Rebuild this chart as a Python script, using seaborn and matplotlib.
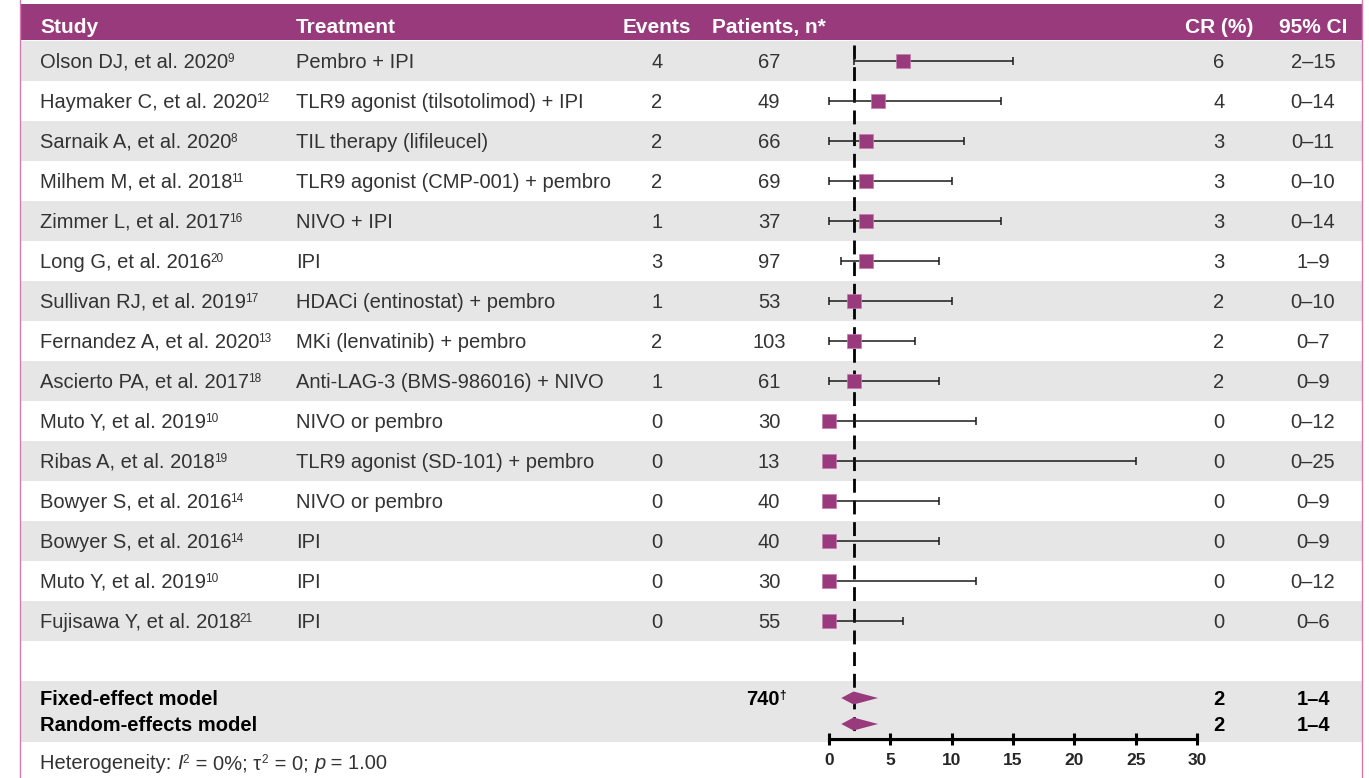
import numpy as np
import pandas as pd
import matplotlib
matplotlib.use("Agg")
import matplotlib.pyplot as plt
import seaborn as sns

# ---------------- data ----------------
studies = ["Olson DJ, et al. 2020", "Haymaker C, et al. 2020", "Sarnaik A, et al. 2020",
           "Milhem M, et al. 2018", "Zimmer L, et al. 2017", "Long G, et al. 2016",
           "Sullivan RJ, et al. 2019", "Fernandez A, et al. 2020", "Ascierto PA, et al. 2017",
           "Muto Y, et al. 2019", "Ribas A, et al. 2018", "Bowyer S, et al. 2016",
           "Bowyer S, et al. 2016", "Muto Y, et al. 2019", "Fujisawa Y, et al. 2018"]
refs = ["9", "12", "8", "11", "16", "20", "17", "13", "18", "10", "19", "14", "14", "10", "21"]
treatments = ["Pembro + IPI", "TLR9 agonist (tilsotolimod) + IPI", "TIL therapy (lifileucel)",
              "TLR9 agonist (CMP-001) + pembro", "NIVO + IPI", "IPI",
              "HDACi (entinostat) + pembro", "MKi (lenvatinib) + pembro",
              "Anti-LAG-3 (BMS-986016) + NIVO", "NIVO or pembro",
              "TLR9 agonist (SD-101) + pembro", "NIVO or pembro", "IPI", "IPI", "IPI"]
events = [4, 2, 2, 2, 1, 3, 1, 2, 1, 0, 0, 0, 0, 0, 0]
patients = [67, 49, 66, 69, 37, 97, 53, 103, 61, 30, 13, 40, 40, 30, 55]
cr = [6, 4, 3, 3, 3, 3, 2, 2, 2, 0, 0, 0, 0, 0, 0]
ci_lo = [2, 0, 0, 0, 0, 1, 0, 0, 0, 0, 0, 0, 0, 0, 0]
ci_hi = [15, 14, 11, 10, 14, 9, 10, 7, 9, 12, 25, 9, 9, 12, 6]

models = ["Fixed-effect model", "Random-effects model"]
model_est = [2, 2]
model_lo = [1, 1]
model_hi = [4, 4]
total_patients = "740"
total_mark = "†"
xticks = [0, 5, 10, 15, 20, 25, 30]
# heterogeneity line as (text, style) pieces
het_pieces = [("Heterogeneity: ", "n"), ("I", "i"), ("2", "s"), (" = 0%; τ", "n"), ("2", "s"),
              (" = 0; ", "n"), ("p", "i"), (" = 1.00", "n")]

# ---------------- style ----------------
sns.set_theme(style="white")
FONT = "Liberation Sans"
plt.rcParams["font.family"] = [FONT, "DejaVu Sans"]

PURPLE = "#993A7C"
BAND = "#E6E6E6"
TXT = "#333333"
W, H = 1369, 778
FS = 14.5
SUP_FS = 8.5

fig = plt.figure(figsize=(W / 100, H / 100), dpi=100)
ax = fig.add_axes([0, 0, 1, 1])

ppu = (1197 - 829) / 30.0
ax.set_xlim(-829 / ppu, 30 + (W - 1197) / ppu)
ax.set_ylim((H - 61) / 40.0, -61 / 40.0)
ax.set_facecolor("white")
renderer = fig.canvas.get_renderer()

def px(x):
    return x / W

def py(y):
    return (y - 61) / 40.0

yt = ax.get_yaxis_transform()
n = len(studies)
rows = np.arange(n)
BL = 7  # baseline offset (px) below row centre

def put(xpx, ypx, s, ha="left", **kw):
    return ax.text(px(xpx), py(ypx), s, ha=ha, va="baseline", transform=yt, **kw)

def sup_after(t, ypx, s, **kw):
    bb = t.get_window_extent(renderer)
    return ax.annotate(s, xy=(bb.x1 / W, py(ypx)), xycoords=yt, xytext=(-1, 6),
                       textcoords="offset pixels", ha="left", va="baseline",
                       fontsize=SUP_FS, **kw)

# background bands
x0, x1 = px(20), px(1362)
ax.axhspan(py(4), py(40), xmin=x0, xmax=x1, color=PURPLE, lw=0, zorder=0)
for i in rows:
    if i % 2 == 0:
        ax.axhspan(i - 0.5, i + 0.5, xmin=x0, xmax=x1, color=BAND, lw=0, zorder=0)
ax.axhspan(15.5, py(742), xmin=x0, xmax=x1, color=BAND, lw=0, zorder=0)
for bx in (20, 1362):
    ax.axvline(-829 / ppu + bx / ppu, color="#D27BB0", lw=1, zorder=1)

# header
hkw = dict(color="white", fontweight="bold", fontsize=15)
put(40, 33, "Study", **hkw)
put(296, 33, "Treatment", **hkw)
put(657, 33, "Events", ha="center", **hkw)
put(769, 33, "Patients, n*", ha="center", **hkw)
put(1219, 33, "CR (%)", ha="center", **hkw)
put(1313, 33, "95% CI", ha="center", **hkw)

# table rows
tkw = dict(color=TXT, fontsize=FS)
for i in rows:
    yb = 61 + 40 * i + BL
    t = put(40, yb, studies[i], **tkw)
    sup_after(t, yb, refs[i], color=TXT)
    put(296, yb, treatments[i], **tkw)
    put(657, yb, str(events[i]), ha="center", **tkw)
    put(769, yb, str(patients[i]), ha="center", **tkw)
    put(1219, yb, str(cr[i]), ha="center", **tkw)
    put(1313, yb, f"{ci_lo[i]}–{ci_hi[i]}", ha="center", **tkw)

model_px = [698, 724]
model_y = [py(v) for v in model_px]
bkw = dict(color="black", fontsize=FS, fontweight="bold")
for j in range(2):
    yb = model_px[j] + BL
    put(40, yb, models[j], **bkw)
    put(1219, yb, str(model_est[j]), ha="center", **bkw)
    put(1313, yb, f"{model_lo[j]}–{model_hi[j]}", ha="center", **bkw)
t = put(763, model_px[0] + BL, total_patients, ha="center", **bkw)
sup_after(t, model_px[0] + BL, total_mark, color="black", fontweight="bold")

# heterogeneity line
xcur = 40
yb = 762 + BL
for s, style in het_pieces:
    if style == "s":
        t = ax.annotate(s, xy=(xcur / W, py(yb)), xycoords=yt, xytext=(0, 6),
                        textcoords="offset pixels", ha="left", va="baseline",
                        fontsize=SUP_FS, color=TXT)
        xcur = t.get_window_extent(renderer).x1 + 1
    else:
        t = put(xcur, yb, s, color=TXT, fontsize=FS,
                fontstyle="italic" if style == "i" else "normal")
        xcur = t.get_window_extent(renderer).x1

# reference line at pooled estimate
y_axis = py(739)
ax.vlines(model_est[0], py(45), y_axis, colors="black", lw=2,
          linestyles=(0, (5, 2.8)), zorder=2)

# error bars and squares
df = pd.DataFrame({"row": rows, "cr": cr, "lo": ci_lo, "hi": ci_hi})
ax.errorbar(df["cr"], df["row"], xerr=[df["cr"] - df["lo"], df["hi"] - df["cr"]],
            fmt="none", ecolor="#1a1a1a", elinewidth=1.1, capsize=3, capthick=1.1, zorder=3)
sns.scatterplot(data=df, x="cr", y="row", marker="s", s=105, color=PURPLE,
                edgecolor="#C77BB0", linewidth=0.5, ax=ax, zorder=4, legend=False)

# summary diamonds
h = 6.5 / 40.0
for j in range(2):
    yy = model_y[j]
    ax.fill([model_lo[j], model_est[j], model_hi[j], model_est[j]],
            [yy, yy - h, yy, yy + h], color=PURPLE, lw=0, zorder=4)

# x axis
for s in ["top", "left", "right"]:
    ax.spines[s].set_visible(False)
ax.spines["bottom"].set_position(("data", y_axis))
ax.spines["bottom"].set_bounds(xticks[0], xticks[-1])
ax.spines["bottom"].set_linewidth(2.2)
ax.spines["bottom"].set_color("black")
ax.set_xticks(xticks)
ax.set_xticklabels([str(t) for t in xticks], fontweight="bold", fontsize=12.5)
ax.tick_params(axis="x", direction="inout", length=8, width=2.2, color="black", pad=6,
               bottom=True)
ax.set_yticks([])
ax.set_xlabel("")
ax.set_ylabel("")

fig.savefig("out.png", dpi=100)
